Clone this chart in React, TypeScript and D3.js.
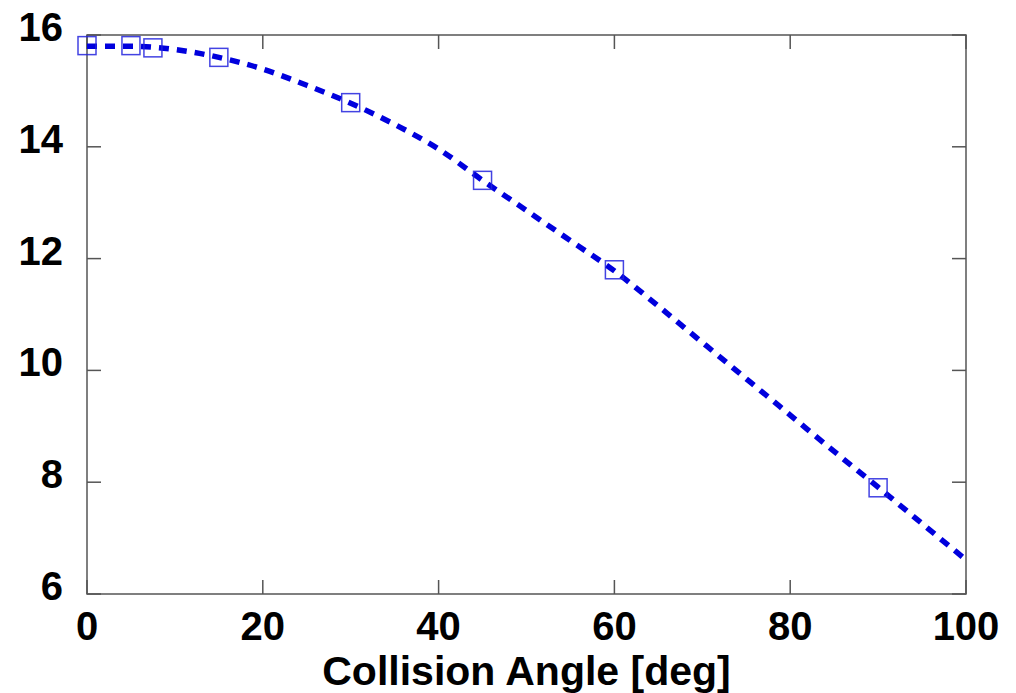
import React, { useEffect, useRef } from 'react';
import * as d3 from 'd3';

// fitted curve
const curveAngles = [0, 5, 10, 15, 20, 25, 30, 35, 40, 45, 50, 55, 60, 65, 70, 75, 80, 85, 90, 95, 100];
const curveValues = [15.8, 15.8, 15.74, 15.6, 15.39, 15.1, 14.78, 14.4, 13.96, 13.4, 12.86, 12.32, 11.78, 11.15, 10.5, 9.85, 9.2, 8.55, 7.91, 7.26, 6.61];

// measured points (square markers)
const pointAngles = [0, 5, 7.5, 15, 30, 45, 60, 90];
const pointValues = [15.81, 15.81, 15.77, 15.6, 14.79, 13.4, 11.8, 7.9];

const xTicks = [0, 20, 40, 60, 80, 100];
const yTicks = [6, 8, 10, 12, 14, 16];

export default function App() {
  const ref = useRef<SVGSVGElement>(null);

  useEffect(() => {
    const width = 1016, height = 693;
    const margin = { top: 35, right: 50, bottom: 99, left: 87 };
    const svg = d3.select(ref.current);
    svg.selectAll('*').remove();

    const x = d3.scaleLinear().domain([0, 100]).range([margin.left, width - margin.right]);
    const y = d3.scaleLinear().domain([6, 16]).range([height - margin.bottom, margin.top]);
    const font = 'Liberation Sans, Arial, Helvetica, sans-serif';
    const tick = 14;
    const axisColor = '#555';

    // frame
    svg.append('rect')
      .attr('x', x(0)).attr('y', y(16))
      .attr('width', x(100) - x(0)).attr('height', y(6) - y(16))
      .attr('fill', 'none').attr('stroke', axisColor).attr('stroke-width', 1.5);

    // inner ticks on all four sides
    const tg = svg.append('g').attr('stroke', axisColor).attr('stroke-width', 1.5);
    xTicks.forEach(t => {
      tg.append('line').attr('x1', x(t)).attr('x2', x(t)).attr('y1', y(6)).attr('y2', y(6) - tick);
      tg.append('line').attr('x1', x(t)).attr('x2', x(t)).attr('y1', y(16)).attr('y2', y(16) + tick);
    });
    yTicks.forEach(t => {
      tg.append('line').attr('x1', x(0)).attr('x2', x(0) + tick).attr('y1', y(t)).attr('y2', y(t));
      tg.append('line').attr('x1', x(100)).attr('x2', x(100) - tick).attr('y1', y(t)).attr('y2', y(t));
    });

    // tick labels
    svg.append('g').selectAll('text').data(xTicks).enter().append('text')
      .attr('x', d => x(d)).attr('y', y(6) + 46)
      .attr('text-anchor', 'middle')
      .style('font-family', font).style('font-weight', 'bold').style('font-size', '40px')
      .text(d => d);

    svg.append('g').selectAll('text').data(yTicks).enter().append('text')
      .attr('x', x(0) - 24).attr('y', d => y(d) + 6)
      .attr('text-anchor', 'end')
      .style('font-family', font).style('font-weight', 'bold').style('font-size', '40px')
      .text(d => d);

    svg.append('text')
      .attr('x', (x(0) + x(100)) / 2).attr('y', 685)
      .attr('text-anchor', 'middle')
      .style('font-family', font).style('font-weight', 'bold').style('font-size', '41px')
      .text('Collision Angle [deg]');

    // dashed curve
    const line = d3.line<number>()
      .x((d, i) => x(curveAngles[i]))
      .y(d => y(d))
      .curve(d3.curveMonotoneX);

    svg.append('path')
      .datum(curveValues)
      .attr('d', line)
      .attr('fill', 'none')
      .attr('stroke', '#0000dd')
      .attr('stroke-width', 5.5)
      .attr('stroke-dasharray', '10 8')
      .attr('stroke-linecap', 'butt');

    // square markers
    const s = 18;
    svg.append('g').selectAll('rect').data(pointValues).enter().append('rect')
      .attr('x', (d, i) => x(pointAngles[i]) - s / 2)
      .attr('y', d => y(d) - s / 2)
      .attr('width', s).attr('height', s)
      .attr('fill', 'none')
      .attr('stroke', '#2222dd')
      .attr('stroke-opacity', 0.85)
      .attr('stroke-width', 1.5);
  });

  return (
    <svg ref={ref} width={1016} height={693}
      style={{ position: 'absolute', left: 0, top: 0, background: 'white' }} />
  );
}
